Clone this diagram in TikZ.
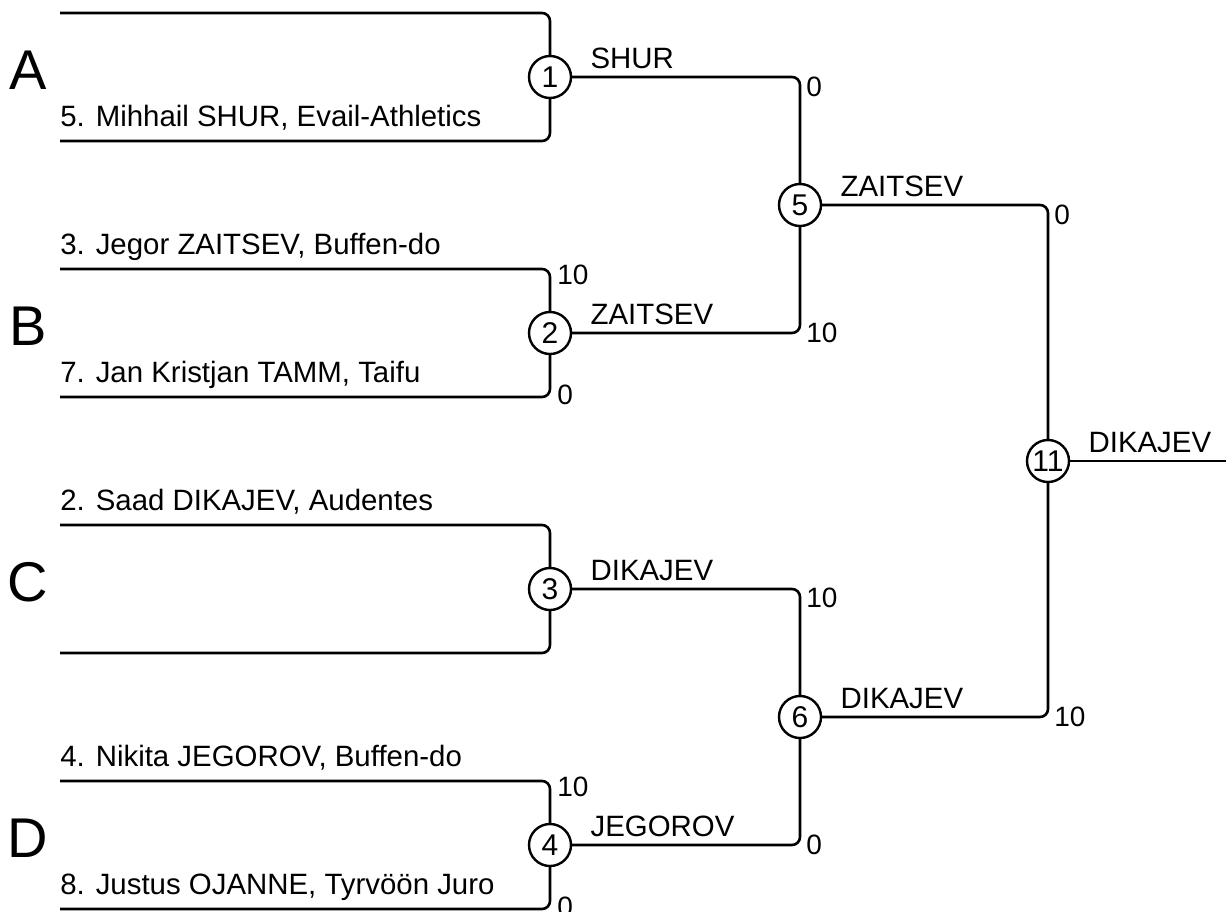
\documentclass[tikz,border=0pt]{standalone}
\usepackage{fontspec}
\setmainfont{Liberation Sans}
\usetikzlibrary{positioning,calc}

\tikzset{
  bout/.style={circle, draw, line width=1.2pt, minimum size=21pt, inner sep=0pt, font=\fontsize{15}{15}\selectfont},
  group/.style={anchor=base, inner sep=0pt, font=\fontsize{28}{28}\selectfont},
  entry/.style={anchor=base west, inner sep=0pt, font=\fontsize{14.7}{17}\selectfont},
  win/.style={anchor=base west, inner sep=0pt, font=\fontsize{14.7}{17}\selectfont},
  score/.style={anchor=west, inner sep=0pt, font=\fontsize{14}{14}\selectfont},
  link/.style={line width=1.3pt, rounded corners=4pt},
}

\begin{document}
\begin{tikzpicture}[x=0.5pt, y=-0.5pt]
\useasboundingbox (0,0) rectangle (1226,911);
% first round: four pools
\foreach \n/\y/\grp in {1/77/A, 2/333/B, 3/589/C, 4/845/D}{
  \node[bout] (b\n) at (550,\y) {\n};
  \node[group] (g\grp) at (28,\y+12) {\grp};
  \coordinate (t\n) at (60,\y-64);
  \coordinate (u\n) at (60,\y+64);
  \draw[link] (t\n) -| (b\n);
  \draw[link] (u\n) -| (b\n);
}
\node[entry] (e5) at ($(u1)+(0,-15)$) {5. Mihhail SHUR, Evail-Athletics};
\node[entry] (e3) at ($(t2)+(0,-15)$) {3. Jegor ZAITSEV, Buffen-do};
\node[entry] (e7) at ($(u2)+(0,-15)$) {7. Jan Kristjan TAMM, Taifu};
\node[entry] (e2) at ($(t3)+(0,-15)$) {2. Saad DIKAJEV, Audentes};
\node[entry] (e4) at ($(t4)+(0,-15)$) {4. Nikita JEGOROV, Buffen-do};
\node[entry] (e8) at ($(u4)+(0,-15)$) {8. Justus OJANNE, Tyrvöön Juro};
\node[score] (s2t) at ($(b2 |- t2)+(7,6)$) {10};
\node[score] (s2u) at ($(b2 |- u2)+(7,-2)$) {0};
\node[score] (s4t) at ($(b4 |- t4)+(7,6)$) {10};
\node[score] (s4u) at ($(b4 |- u4)+(7,-2)$) {0};
% later rounds
\node[bout] (b5) at (800,205) {5};
\node[bout] (b6) at (800,717) {6};
\node[bout] (b11) at (1048,461) {11};
\coordinate (fin) at (1226,461);
\draw[link] (b1) -| (b5);
\draw[link] (b2) -| (b5);
\draw[link] (b3) -| (b6);
\draw[link] (b4) -| (b6);
\draw[link] (b5) -| (b11);
\draw[link] (b6) -| (b11);
\draw[link] (b11) -- (fin);
\foreach \b/\name in {1/SHUR, 2/ZAITSEV, 3/DIKAJEV, 4/JEGOROV, 5/ZAITSEV, 6/DIKAJEV, 11/DIKAJEV}{
  \node[win] (w\b) at ($(b\b.east)+(18,-9)$) {\name};
}
\node[score] (s1) at ($(b5 |- b1)+(6,10)$) {0};
\node[score] (s2) at ($(b5 |- b2)+(6,0)$) {10};
\node[score] (s3) at ($(b6 |- b3)+(6,9)$) {10};
\node[score] (s4) at ($(b6 |- b4)+(6,0)$) {0};
\node[score] (s5) at ($(b11 |- b5)+(6,10)$) {0};
\node[score] (s6) at ($(b11 |- b6)+(6,0)$) {10};
\end{tikzpicture}
\end{document}
